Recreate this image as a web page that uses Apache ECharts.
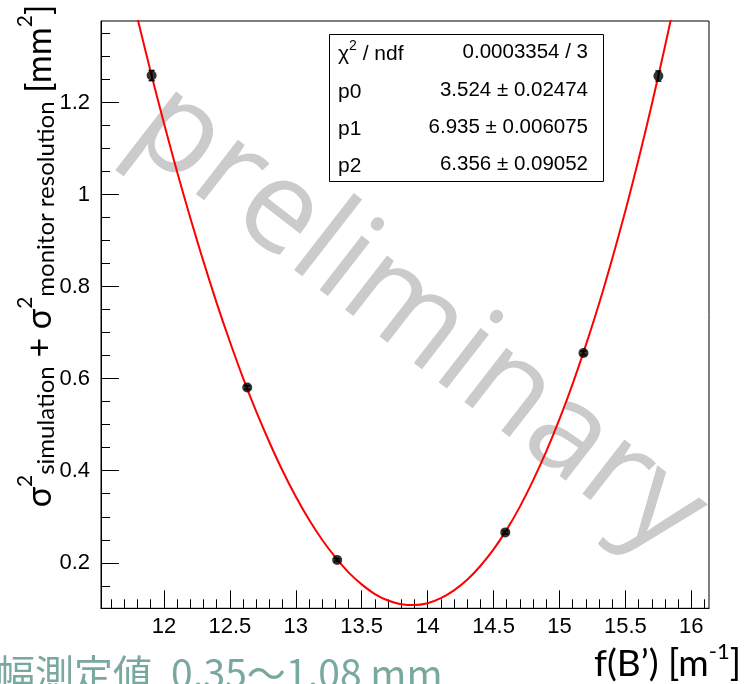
<!DOCTYPE html>
<html>
<head>
<meta charset="utf-8">
<script src="https://cdn.jsdelivr.net/npm/echarts@6/dist/echarts.min.js"></script>
<style>
  html, body { margin: 0; padding: 0; background: #ffffff; }
  #chart { width: 745px; height: 684px; }
</style>
</head>
<body>
<div id="chart"></div>
<script>
// Measured sigma^2 at each quadrupole setting f(B')
const fB = [11.907, 12.632, 13.314, 14.589, 15.182, 15.75];
const sigma2 = [1.259, 0.581, 0.206, 0.266, 0.656, 1.258];
const sigma2Err = [0.011, 0.004, 0.003, 0.003, 0.004, 0.011];

// Fitted curve, sampled along f(B')
const fitX = [11.8, 11.9, 12.0, 12.1, 12.2, 12.3, 12.4, 12.5, 12.6, 12.7, 12.8, 12.9, 13.0, 13.1,
              13.2, 13.3, 13.4, 13.5, 13.6, 13.7, 13.8, 13.9, 14.0, 14.1, 14.2, 14.3, 14.4, 14.5,
              14.6, 14.7, 14.8, 14.9, 15.0, 15.1, 15.2, 15.3, 15.4, 15.5, 15.6, 15.7, 15.8, 15.9];
const fitY = [1.383, 1.267, 1.156, 1.050, 0.950, 0.855, 0.765, 0.681, 0.602, 0.529, 0.462, 0.400, 0.344, 0.294,
              0.250, 0.212, 0.179, 0.153, 0.132, 0.118, 0.110, 0.108, 0.112, 0.123, 0.140, 0.163, 0.193, 0.229,
              0.272, 0.322, 0.379, 0.442, 0.512, 0.589, 0.673, 0.763, 0.861, 0.965, 1.077, 1.196, 1.322, 1.455];

// Axis ranges and labelled ticks
const xRange = [11.523, 16.134];
const yRange = [0.101, 1.3776];
const xTicks = [12, 12.5, 13, 13.5, 14, 14.5, 15, 15.5, 16];
const yTicks = [0.2, 0.4, 0.6, 0.8, 1, 1.2];

// Fit statistics box
const statNames = ['{t|χ}{s|2}{t| / ndf}', '{t|p0}', '{t|p1}', '{t|p2}'];
const statValues = ['0.0003354 / 3', '3.524 ± 0.02474', '6.935 ± 0.006075', '6.356 ± 0.09052'];

// minor tick positions: every step inside the range that is not a labelled tick
function minorTicks(range, step, majors) {
  const out = [];
  const start = Math.ceil(range[0] / step);
  const end = Math.floor(range[1] / step);
  for (let i = start; i <= end; i++) {
    const v = Math.round(i * step * 1000) / 1000;
    if (!majors.some(m => Math.abs(m - v) < 1e-6)) out.push(v);
  }
  return out;
}
const xMinor = minorTicks(xRange, 0.1, xTicks);
const yMinor = minorTicks(yRange, 0.05, yTicks);

const chart = echarts.init(document.getElementById('chart'), null, { renderer: 'canvas' });

const tickFont = { fontFamily: 'Liberation Sans', fontSize: 22, color: '#000' };
const GRID = { left: 101, right: 36, top: 21, bottom: 75.7 };

const statGraphics = [];
statGraphics.push({
  type: 'rect', z: 100,
  shape: { x: 329.5, y: 34.5, width: 274, height: 147 },
  style: { fill: '#ffffff', stroke: '#000000', lineWidth: 1 }
});
const rowY = [52, 90, 127, 164];
for (let i = 0; i < statNames.length; i++) {
  statGraphics.push({
    type: 'text', z: 101, x: 338, y: rowY[i],
    style: {
      text: statNames[i], align: 'left', verticalAlign: 'middle',
      rich: {
        t: { fontFamily: 'Liberation Sans', fontSize: 21, fill: '#000', lineHeight: 25, verticalAlign: 'bottom' },
        s: { fontFamily: 'Liberation Sans', fontSize: 14, fill: '#000', lineHeight: 14, verticalAlign: 'top' }
      }
    }
  });
  statGraphics.push({
    type: 'text', z: 101, x: 588, y: rowY[i],
    style: {
      text: statValues[i], align: 'right', verticalAlign: 'middle',
      fontFamily: 'Liberation Sans', fontSize: 20.5, fill: '#000'
    }
  });
}

const option = {
  animation: false,
  backgroundColor: '#ffffff',
  grid: Object.assign({ show: true, borderColor: '#000', borderWidth: 1, backgroundColor: 'transparent' }, GRID),
  xAxis: [
    {
      type: 'value', min: xRange[0], max: xRange[1],
      axisLine: { show: true, onZero: false, lineStyle: { color: '#000', width: 1 } },
      axisTick: { show: true, inside: true, length: 18, customValues: xTicks, lineStyle: { color: '#000' } },
      axisLabel: Object.assign({ customValues: xTicks, margin: 8 }, tickFont),
      splitLine: { show: false }
    },
    {
      type: 'value', min: xRange[0], max: xRange[1], position: 'bottom',
      axisLine: { show: false, onZero: false },
      axisTick: { show: true, inside: true, length: 9, customValues: xMinor, lineStyle: { color: '#000' } },
      axisLabel: { show: false },
      splitLine: { show: false }
    }
  ],
  yAxis: [
    {
      type: 'value', min: yRange[0], max: yRange[1],
      axisLine: { show: true, onZero: false, lineStyle: { color: '#000', width: 1 } },
      axisTick: { show: true, inside: true, length: 18, customValues: yTicks, lineStyle: { color: '#000' } },
      axisLabel: Object.assign({ customValues: yTicks, margin: 11 }, tickFont),
      splitLine: { show: false }
    },
    {
      type: 'value', min: yRange[0], max: yRange[1], position: 'left',
      axisLine: { show: false, onZero: false },
      axisTick: { show: true, inside: true, length: 9, customValues: yMinor, lineStyle: { color: '#000' } },
      axisLabel: { show: false },
      splitLine: { show: false }
    }
  ],
  graphic: [
    {
      type: 'text', z: 0, x: 418, y: 320, rotation: -0.66,
      style: {
        text: 'preliminary', align: 'center', verticalAlign: 'middle',
        fontFamily: 'Open Sans', fontSize: 128, fill: '#cbcbcb'
      }
    },
    {
      type: 'text', z: 10, x: 40, y: 256, rotation: Math.PI / 2,
      style: {
        text: '{m|σ}{p|2}{b|simulation}{m| + σ}{p|2}{b|monitor resolution}{m| [mm}{p|2}{m|]}',
        align: 'center', verticalAlign: 'middle',
        rich: {
          m: { fontFamily: 'Lato', fontSize: 34, fill: '#000', lineHeight: 50, verticalAlign: 'middle' },
          p: { fontFamily: 'Lato', fontSize: 21, fill: '#000', lineHeight: 21, verticalAlign: 'top' },
          b: { fontFamily: 'Lato', fontSize: 24, fill: '#000', lineHeight: 24, verticalAlign: 'bottom', padding: [0, 0, 7, 0] }
        }
      }
    },
    {
      type: 'text', z: 10, x: 741, y: 664,
      style: {
        text: '{m|f(B’) [m}{p|-1}{m|]}',
        align: 'right', verticalAlign: 'middle',
        rich: {
          m: { fontFamily: 'Lato', fontSize: 37, fill: '#000', lineHeight: 46, verticalAlign: 'middle' },
          p: { fontFamily: 'Lato', fontSize: 22, fill: '#000', lineHeight: 22, verticalAlign: 'top' }
        }
      }
    },
    {
      type: 'text', z: 10, x: 152, y: 654,
      style: {
        text: '幅測定値',
        align: 'right', verticalAlign: 'top',
        fontFamily: 'Noto Sans CJK JP', fontSize: 39, fill: '#79a89e'
      }
    },
    {
      type: 'text', z: 10, x: 171, y: 654,
      style: {
        text: '0.35〜1.08 mm',
        align: 'left', verticalAlign: 'top',
        fontFamily: 'Noto Sans CJK JP', fontSize: 39, fill: '#79a89e'
      }
    }
  ].concat(statGraphics),
  series: [
    {
      type: 'line', name: 'fit', xAxisIndex: 0, yAxisIndex: 0,
      data: fitX.map((x, i) => [x, fitY[i]]),
      smooth: 0.3, clip: true, showSymbol: false, symbol: 'none',
      lineStyle: { color: '#ff0000', width: 2 }, z: 3
    },
    {
      type: 'custom', name: 'errors', xAxisIndex: 0, yAxisIndex: 0,
      data: fB.map((x, i) => [x, sigma2[i], sigma2Err[i]]),
      renderItem: function (params, api) {
        const x = api.value(0), y = api.value(1), e = api.value(2);
        const top = api.coord([x, y + e]);
        const bot = api.coord([x, y - e]);
        const cap = 3;
        const st = { stroke: '#000', lineWidth: 1.5 };
        return {
          type: 'group',
          children: [
            { type: 'line', shape: { x1: top[0], y1: top[1], x2: bot[0], y2: bot[1] }, style: st },
            { type: 'line', shape: { x1: top[0] - cap, y1: top[1], x2: top[0] + cap, y2: top[1] }, style: st },
            { type: 'line', shape: { x1: bot[0] - cap, y1: bot[1], x2: bot[0] + cap, y2: bot[1] }, style: st }
          ]
        };
      },
      z: 4
    },
    {
      type: 'scatter', name: 'data', xAxisIndex: 0, yAxisIndex: 0,
      data: fB.map((x, i) => [x, sigma2[i]]),
      symbol: 'circle', symbolSize: 10,
      itemStyle: { color: '#000' }, z: 5
    }
  ]
};

chart.setOption(option);
</script>
</body>
</html>
